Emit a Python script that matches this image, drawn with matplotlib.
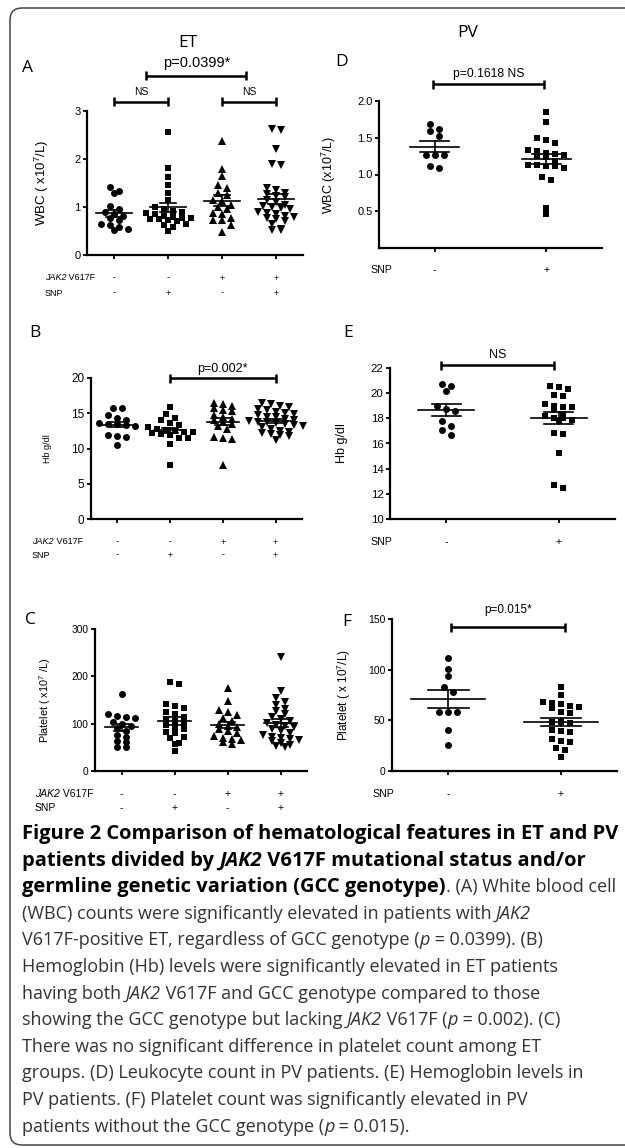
import numpy as np
import matplotlib
matplotlib.use('Agg')
import matplotlib.pyplot as plt
from matplotlib import transforms
from matplotlib.patches import FancyBboxPatch

W, H, DPI = 625, 1148, 100
SANS = ['Liberation Sans', 'DejaVu Sans']
CAP = ['Open Sans', 'DejaVu Sans']
plt.rcParams['mathtext.fontset'] = 'custom'
plt.rcParams['mathtext.rm'] = 'Liberation Sans'
plt.rcParams['mathtext.it'] = 'Liberation Sans:italic'

# ---- values ----
# ET groups: JAK2-/SNP-, JAK2-/SNP+, JAK2+/SNP-, JAK2+/SNP+
wbc_et = [
    [1.42, 1.33, 1.30, 1.02, 0.95, 0.90, 0.85, 0.82, 0.78, 0.72, 0.65, 0.63, 0.58, 0.53, 0.55],
    [2.57, 1.82, 1.63, 1.46, 1.30, 1.15, 1.00, 0.90, 0.95, 0.92, 0.88, 0.85, 0.82, 0.80,
     0.78, 0.78, 0.76, 0.75, 0.72, 0.62, 0.58, 0.50, 0.70, 0.65],
    [2.38, 1.80, 1.65, 1.40, 1.45, 1.30, 1.25, 1.15, 1.12, 1.05, 1.00, 0.95, 0.88, 0.85,
     0.78, 0.73, 0.72, 0.62, 0.48],
    [2.62, 2.60, 2.20, 1.90, 1.88, 1.40, 1.35, 1.30, 1.28, 1.22, 1.20, 1.15, 1.10, 1.05,
     1.02, 1.00, 0.98, 0.95, 0.90, 0.88, 0.85, 0.82, 0.80, 0.78, 0.75, 0.70, 0.65, 0.55,
     0.52, 0.53],
]
hb_et = [
    [15.7, 15.7, 14.7, 14.3, 14.0, 13.6, 13.5, 13.5, 13.4, 13.2, 11.9, 11.8, 11.7, 10.5],
    [15.9, 14.9, 14.3, 14.0, 13.6, 13.3, 13.0, 12.8, 12.6, 12.5, 12.4, 12.3, 12.2, 12.0,
     11.9, 11.5, 11.5, 10.6, 7.7],
    [16.5, 16.3, 16.0, 15.7, 15.5, 15.3, 14.8, 14.5, 14.2, 14.0, 13.8, 13.5, 13.2, 12.8,
     11.5, 11.4, 11.6, 7.6],
    [16.4, 16.3, 16.0, 15.9, 15.6, 15.5, 15.2, 15.0, 14.9, 14.7, 14.5, 14.4, 14.2, 14.0,
     13.9, 13.8, 13.7, 13.6, 13.4, 13.2, 13.0, 12.8, 12.5, 12.3, 12.2, 12.0, 11.8, 11.9,
     11.2, 13.5],
]
plt_et = [
    [162, 120, 112, 117, 114, 104, 100, 95, 90, 85, 76, 64, 61, 50, 50, 72],
    [188, 183, 142, 138, 133, 125, 121, 115, 110, 105, 101, 98, 92, 88, 82, 80, 72, 70,
     60, 58, 43],
    [175, 148, 128, 124, 118, 112, 106, 100, 96, 93, 88, 85, 80, 74, 70, 68, 65, 62, 58],
    [240, 168, 155, 145, 140, 131, 127, 120, 115, 110, 105, 101, 98, 95, 92, 88, 85, 80,
     76, 72, 70, 68, 66, 64, 60, 55, 52, 50],
]
# PV groups: SNP-, SNP+
wbc_pv = [
    [1.69, 1.62, 1.59, 1.52, 1.26, 1.26, 1.26, 1.09, 1.12],
    [1.85, 1.71, 1.50, 1.47, 1.43, 1.33, 1.32, 1.29, 1.28, 1.27, 1.25, 1.24, 1.18, 1.13,
     1.13, 1.12, 1.12, 1.09, 0.97, 0.93, 0.55, 0.46],
]
hb_pv = [
    [20.6, 20.7, 20.2, 18.95, 18.77, 18.6, 17.8, 17.4, 17.1, 16.7],
    [20.5, 20.57, 20.33, 19.88, 19.77, 19.17, 18.93, 18.93, 19.0, 18.64, 18.37, 18.2,
     18.0, 17.87, 18.0, 17.76, 16.73, 16.86, 15.25, 12.73, 12.44],
]
plt_pv = [
    [112, 101, 94, 83, 78, 58, 58, 58, 40, 26],
    [83, 75, 68, 67, 66, 64, 63, 62, 58, 57, 48, 48, 47, 40, 39, 38, 32, 30, 29, 23, 21, 14],
]

jak2_row = ['-', '-', '+', '+']
snp_row = ['-', '+', '-', '+']
snp_pv = ['-', '+']
markers_et = ['o', 's', '^', 'v']
markers_pv = ['o', 's']

caption = [
    [("Figure 2 Comparison of hematological features in ET and PV", 'bold', 'normal')],
    [("patients divided by ", 'bold', 'normal'), ("JAK2", 'bold', 'italic'),
     (" V617F mutational status and/or", 'bold', 'normal')],
    [("germline genetic variation (GCC genotype)", 'bold', 'normal'),
     (". (A) White blood cell", 'normal', 'normal')],
    [("(WBC) counts were significantly elevated in patients with ", 'normal', 'normal'),
     ("JAK2", 'normal', 'italic')],
    [("V617F-positive ET, regardless of GCC genotype (", 'normal', 'normal'),
     ("p", 'normal', 'italic'), (" = 0.0399). (B)", 'normal', 'normal')],
    [("Hemoglobin (Hb) levels were significantly elevated in ET patients", 'normal', 'normal')],
    [("having both ", 'normal', 'normal'), ("JAK2", 'normal', 'italic'),
     (" V617F and GCC genotype compared to those", 'normal', 'normal')],
    [("showing the GCC genotype but lacking ", 'normal', 'normal'), ("JAK2", 'normal', 'italic'),
     (" V617F (", 'normal', 'normal'), ("p", 'normal', 'italic'),
     (" = 0.002). (C)", 'normal', 'normal')],
    [("There was no significant difference in platelet count among ET", 'normal', 'normal')],
    [("groups. (D) Leukocyte count in PV patients. (E) Hemoglobin levels in", 'normal', 'normal')],
    [("PV patients. (F) Platelet count was significantly elevated in PV", 'normal', 'normal')],
    [("patients without the GCC genotype (", 'normal', 'normal'), ("p", 'normal', 'italic'),
     (" = 0.015).", 'normal', 'normal')],
]

fig = plt.figure(figsize=(W / DPI, H / DPI), dpi=DPI)
renderer = fig.canvas.get_renderer()


def fx(px):
    return px / W


def fy(py):
    return 1 - py / H


def text_width(s, size, weight, style, family):
    # width incl. spaces, measured with a sentinel bar
    t1 = fig.text(0, 0, s + '|', fontsize=size, fontweight=weight, fontstyle=style, family=family)
    t2 = fig.text(0, 0, '|', fontsize=size, fontweight=weight, fontstyle=style, family=family)
    w = t1.get_window_extent(renderer).width - t2.get_window_extent(renderer).width
    t1.remove()
    t2.remove()
    return w


def rich_text(x_px, y_px, segments, sizes, family, colors=('black', 'black')):
    # sizes: (bold size, normal size)
    x = x_px
    for s, weight, style in segments:
        bold = weight == 'bold'
        col = colors[0] if bold else colors[1]
        size = sizes[0] if bold else sizes[1]
        fig.text(fx(x), fy(y_px), s, fontsize=size, fontweight=weight, fontstyle=style,
                 family=family, color=col, ha='left', va='center')
        x += text_width(s, size, weight, style, family)


def make_axes(left, top, right, bottom, xlim, ylim, yticks, ylabel, label_x, tsize, lsize):
    ax = fig.add_axes([fx(left), fy(bottom), (right - left) / W, (bottom - top) / H])
    ax.set_xlim(*xlim)
    ax.set_ylim(*ylim)
    for s in ['top', 'right']:
        ax.spines[s].set_visible(False)
    for s in ['left', 'bottom']:
        ax.spines[s].set_linewidth(1.6)
    ax.set_xticks(range(1, int(xlim[1]) + 1))
    ax.set_xticklabels([])
    ax.set_yticks(yticks)
    ax.set_yticklabels(['%g' % t for t in yticks])
    ax.tick_params(direction='out', length=3.2, width=1.3, labelsize=tsize, pad=1.5)
    for lab in ax.get_yticklabels():
        lab.set_family(SANS)
    ax.set_ylabel(ylabel, fontsize=lsize, family=SANS)
    ax.yaxis.set_label_coords(label_x, 0.5)
    return ax


def swarm(vals, px_y, spacing=9.0, row_h=5.5):
    v = np.asarray(vals, float)
    order = np.argsort(-v)
    offs = np.zeros(len(v))
    rows, cur = [], []
    for idx in order:
        if cur and (v[cur[0]] - v[idx]) * px_y > row_h:
            rows.append(cur)
            cur = []
        cur.append(idx)
    rows.append(cur)
    for row in rows:
        n = len(row)
        for k, idx in enumerate(row):
            offs[idx] = (k - (n - 1) / 2) * spacing
    return offs


def draw_groups(ax, groups, markers, halfw, semw):
    pos = ax.get_position()
    x0, x1 = ax.get_xlim()
    y0, y1 = ax.get_ylim()
    px_x = pos.width * W / (x1 - x0)
    px_y = pos.height * H / (y1 - y0)
    sizes = {'o': 5.0, 's': 4.6, '^': 5.4, 'v': 5.4}
    for i, (vals, mk) in enumerate(zip(groups, markers)):
        c = i + 1
        xs = c + swarm(vals, px_y) / px_x
        ax.plot(xs, vals, linestyle='none', marker=mk, ms=sizes[mk], color='black',
                markeredgewidth=0, clip_on=False)
        m = np.mean(vals)
        se = np.std(vals, ddof=1) / np.sqrt(len(vals))
        ax.plot([c - halfw, c + halfw], [m, m], color='black', lw=1.2)
        ax.plot([c - semw, c + semw], [m + se, m + se], color='black', lw=1.2)
        ax.plot([c - semw, c + semw], [m - se, m - se], color='black', lw=1.2)
        ax.plot([c, c], [m - se, m + se], color='black', lw=1.2)


def bracket(ax, xa, xb, y, label, text_px, size):
    pos = ax.get_position()
    y0, y1 = ax.get_ylim()
    px_y = pos.height * H / (y1 - y0)
    cap = 4.5 / px_y
    kw = dict(color='black', lw=1.8, clip_on=False, solid_capstyle='butt')
    ax.plot([xa, xb], [y, y], **kw)
    ax.plot([xa, xa], [y - cap, y + cap], **kw)
    ax.plot([xb, xb], [y - cap, y + cap], **kw)
    ax.annotate(label, ((xa + xb) / 2, y), xytext=(0, text_px * 0.72), textcoords='offset points',
                ha='center', va='center', fontsize=size, family=SANS, annotation_clip=False)


def column_labels(ax, rows, y_list, x_label_px, labels, size):
    tr = transforms.blended_transform_factory(ax.transData, fig.transFigure)
    for row, ypx, lab in zip(rows, y_list, labels):
        rich_text(x_label_px, ypx, lab, (size, size), SANS)
        for i, s in enumerate(row):
            fig.text(i + 1, fy(ypx), s, transform=tr, ha='center', va='center',
                     fontsize=size, family=SANS)


jak_lab = [("JAK2", 'normal', 'italic'), (" V617F", 'normal', 'normal')]
snp_lab = [("SNP", 'normal', 'normal')]

# ---- panel A ----
axA = make_axes(87, 111, 303, 255, (0.5, 4.5), (0, 3), [0, 1, 2, 3],
                r'WBC ( x10$^7$/L)', -0.165, 8, 9.5)
draw_groups(axA, wbc_et, markers_et, 0.33, 0.15)
bracket(axA, 1, 2, 3.19, 'NS', 10, 7.5)
bracket(axA, 3, 4, 3.19, 'NS', 10, 7.5)
bracket(axA, 1.6, 3.45, 3.73, 'p=0.0399*', 13, 10.5)
column_labels(axA, [jak2_row, snp_row], [278, 293], 45, [jak_lab, snp_lab], 6.5)

# ---- panel D ----
axD = make_axes(379, 101, 602, 248, (0.5, 2.5), (0, 2.0), [0.5, 1.0, 1.5, 2.0],
                r'WBC (x10$^7$/L)', -0.185, 8, 9)
axD.set_yticklabels(['0.5', '1.0', '1.5', '2.0'], family=SANS)
draw_groups(axD, wbc_pv, markers_pv, 0.22, 0.13)
bracket(axD, 0.98, 1.98, 2.23, 'p=0.1618 NS', 10, 8.7)
column_labels(axD, [snp_pv], [270], 370, [snp_lab], 7.6)

# ---- panel B ----
axB = make_axes(91, 378, 302, 519, (0.5, 4.5), (0, 20), [0, 5, 10, 15, 20],
                'Hb g/dl', -0.185, 8.5, 6.5)
draw_groups(axB, hb_et, markers_et, 0.31, 0.15)
bracket(axB, 2, 4, 20, 'p=0.002*', 9, 9)
column_labels(axB, [jak2_row, snp_row], [542, 555], 32, [jak_lab, snp_lab], 6.5)

# ---- panel E ----
axE = make_axes(390, 368, 615, 519, (0.5, 2.5), (10, 22), [10, 12, 14, 16, 18, 20, 22],
                'Hb g/dl', -0.187, 8.2, 9)
draw_groups(axE, hb_pv, markers_pv, 0.25, 0.13)
bracket(axE, 0.95, 1.96, 22.2, 'NS', 10, 9)
column_labels(axE, [snp_pv], [542], 370, [snp_lab], 7.6)

# ---- panel C ----
axC = make_axes(95, 629, 307, 771, (0.5, 4.5), (0, 300), [0, 100, 200, 300],
                r'Platelet ( x10$^7$ /L)', -0.198, 7.3, 7.8)
draw_groups(axC, plt_et, markers_et, 0.32, 0.15)
column_labels(axC, [jak2_row, snp_row], [794, 808], 35, [jak_lab, snp_lab], 7.5)

# ---- panel F ----
axF = make_axes(392, 619, 617, 771, (0.5, 2.5), (0, 150), [0, 50, 100, 150],
                r'Platelet ( x 10$^7$/L)', -0.173, 7.5, 8.5)
draw_groups(axF, plt_pv, markers_pv, 0.33, 0.18)
bracket(axF, 1.02, 2.04, 142, 'p=0.015*', 17, 8.5)
column_labels(axF, [snp_pv], [794], 372, [snp_lab], 7.6)

# ---- titles and panel letters ----
fig.text(fx(188), fy(43), 'ET', fontsize=12.5, family=CAP, ha='center', va='center')
fig.text(fx(468), fy(33), 'PV', fontsize=12.5, family=CAP, ha='center', va='center')
for letter, x, y in [('A', 28, 68), ('D', 342, 62), ('B', 35, 333), ('E', 348, 333),
                     ('C', 30, 620), ('F', 347, 622)]:
    fig.text(fx(x), fy(y), letter, fontsize=12.5, family=CAP, ha='center', va='center')

# ---- caption (sizes fitted so every line stays inside the frame) ----
MAXW = 594
bold_size = 12 * MAXW / text_width(caption[0][0][0], 12, 'bold', 'normal', CAP)
norm_size = 13
for segs in caption:
    wb = sum(text_width(s, bold_size, w, st, CAP) for s, w, st in segs if w == 'bold')
    wn = sum(text_width(s, 12, w, st, CAP) for s, w, st in segs if w != 'bold')
    if wn > 0:
        norm_size = min(norm_size, 12 * (MAXW - wb) / wn)
for k, segs in enumerate(caption):
    rich_text(22, 834 + k * 26.6, segs, (bold_size, norm_size), CAP, colors=('black', '#333333'))

# ---- rounded frame ----
frame = FancyBboxPatch((0.10, 0.03), 7.0, 11.37, boxstyle='round,pad=0,rounding_size=0.12',
                       transform=fig.dpi_scale_trans, fill=False, edgecolor='#444444', lw=1.1)
fig.add_artist(frame)

fig.savefig('out.png', dpi=DPI)
